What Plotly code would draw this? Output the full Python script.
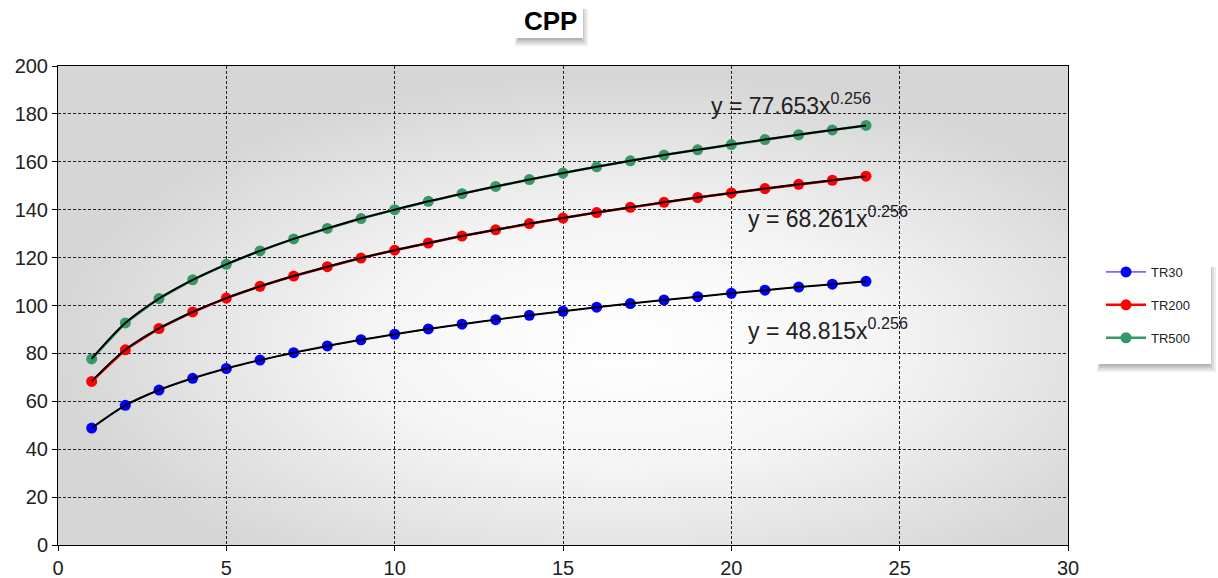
import base64
import plotly.graph_objects as go

x_vals = list(range(1, 25))
tr30 = [48.8, 58.3, 64.7, 69.6, 73.7, 77.2, 80.3, 83.1, 85.7, 88.0, 90.2, 92.2,
        94.1, 95.9, 97.6, 99.3, 100.8, 102.3, 103.7, 105.1, 106.4, 107.7, 108.9, 110.1]
tr200 = [68.3, 81.5, 90.4, 97.3, 103.1, 108.0, 112.3, 116.2, 119.8, 123.1, 126.1, 129.0,
         131.6, 134.2, 136.5, 138.8, 141.0, 143.1, 145.1, 147.0, 148.8, 150.6, 152.3, 154.0]
tr500 = [77.7, 92.7, 102.9, 110.7, 117.2, 122.8, 127.8, 132.2, 136.3, 140.0, 143.5, 146.7,
         149.7, 152.6, 155.3, 157.9, 160.4, 162.8, 165.0, 167.2, 169.3, 171.3, 173.3, 175.2]
series_names = ["TR30", "TR200", "TR500"]
series_colors = ["#0000ff", "#ff0000", "#339966"]
series_widths = [1, 2.5, 2.5]
trend_labels = ["y = 48.815x<sup>0.256</sup>", "y = 68.261x<sup>0.256</sup>", "y = 77.653x<sup>0.256</sup>"]
trend_pos = [(20.43, 90.2), (20.43, 136.9), (19.33, 184.0)]

W, H = 1218, 578
PL, PR, PT, PB = 58, 1068, 66, 545   # plot area in page pixels
L, R, T, B = PL, W - PR, PT, H - PB
pw, ph = PR - PL, PB - PT

def px2paper(px, py):
    return (px - PL) / pw, (PB - py) / ph

FONT = "Liberation Sans, Arial, sans-serif"

fig = go.Figure()
all_series = [tr30, tr200, tr500]
for name, ys, col, lw in zip(series_names, all_series, series_colors, series_widths):
    fig.add_trace(go.Scatter(
        x=x_vals, y=ys, name=name, mode="lines+markers", legendgroup=name,
        line=dict(color=col, width=lw),
        marker=dict(color=col, size=11, line=dict(width=0)),
    ))
for ys in all_series:
    fig.add_trace(go.Scatter(
        x=x_vals, y=ys, mode="lines", showlegend=False, hoverinfo="skip",
        line=dict(color="black", width=2, shape="spline", smoothing=1.0),
    ))

for lab, (tx, ty) in zip(trend_labels, trend_pos):
    fig.add_annotation(x=tx, y=ty, xref="x", yref="y", text=lab, showarrow=False,
                       xanchor="left", yanchor="middle",
                       font=dict(family=FONT, size=23, color="#222222"))

# radial gradient background for plot area
svg = f'''<svg xmlns="http://www.w3.org/2000/svg" width="{pw}" height="{ph}" viewBox="0 0 {pw} {ph}" preserveAspectRatio="none">
<defs><radialGradient id="g" cx="56%" cy="58%" r="56%">
<stop offset="0%" stop-color="#ffffff"/>
<stop offset="45%" stop-color="#f5f5f5"/>
<stop offset="100%" stop-color="#d6d6d6"/>
</radialGradient></defs>
<rect x="0" y="0" width="{pw}" height="{ph}" fill="url(#g)"/></svg>'''
src = "data:image/svg+xml;base64," + base64.b64encode(svg.encode()).decode()
fig.add_layout_image(dict(source=src, xref="paper", yref="paper", x=0, y=1,
                          sizex=1, sizey=1, sizing="stretch", layer="below",
                          xanchor="left", yanchor="top"))

def shadow_box(x0, y0, x1, y1):
    # soft shadow: a few layered translucent rects offset down/right
    for i, a in enumerate([0.10, 0.12, 0.15, 0.18]):
        off = 8 - 2 * i
        sx0, sy0 = px2paper(x0 + 2 + i, y1 + off)
        sx1, sy1 = px2paper(x1 + off - 3, y0 + 6)
        fig.add_shape(type="rect", xref="paper", yref="paper", x0=sx0, y0=sy0, x1=sx1, y1=sy1,
                      fillcolor=f"rgba(90,90,90,{a})", line=dict(width=0))
    bx0, by0 = px2paper(x0, y1)
    bx1, by1 = px2paper(x1, y0)
    fig.add_shape(type="rect", xref="paper", yref="paper", x0=bx0, y0=by0, x1=bx1, y1=by1,
                  fillcolor="white", line=dict(width=0))

# title box
shadow_box(513, 3, 583, 38)
tx, ty = px2paper(550, 21)
fig.add_annotation(x=tx, y=ty, xref="paper", yref="paper", text="<b>CPP</b>", showarrow=False,
                   xanchor="center", yanchor="middle", font=dict(family=FONT, size=26, color="black"))

# legend box
shadow_box(1095, 261, 1211, 364)
lgx, lgy = px2paper(1101, 257)

fig.update_layout(
    width=W, height=H,
    margin=dict(l=L, r=R, t=T, b=B, pad=0),
    paper_bgcolor="white", plot_bgcolor="rgba(0,0,0,0)",
    font=dict(family=FONT, size=20, color="#222222"),
    legend=dict(x=lgx, y=lgy, xanchor="left", yanchor="top", bgcolor="rgba(0,0,0,0)",
                borderwidth=0, font=dict(family=FONT, size=13, color="#222222"),
                tracegroupgap=13, itemwidth=40),
    xaxis=dict(range=[0, 30], tickvals=[0, 5, 10, 15, 20, 25, 30], showgrid=True,
               gridcolor="#222222", griddash="3px,2px", gridwidth=1,
               showline=True, linecolor="black", linewidth=1, mirror=True,
               ticks="outside", ticklen=5, tickcolor="black", zeroline=False,
               automargin=False),
    yaxis=dict(range=[0, 200], tickvals=list(range(0, 201, 20)), showgrid=True,
               gridcolor="#222222", griddash="3px,2px", gridwidth=1,
               showline=True, linecolor="black", linewidth=1, mirror=True,
               ticks="outside", ticklen=5, tickcolor="black", zeroline=False,
               automargin=False),
    showlegend=True,
)

fig.write_html("out.html", config={"displayModeBar": False},
               post_script="document.body.style.margin='0px';")
